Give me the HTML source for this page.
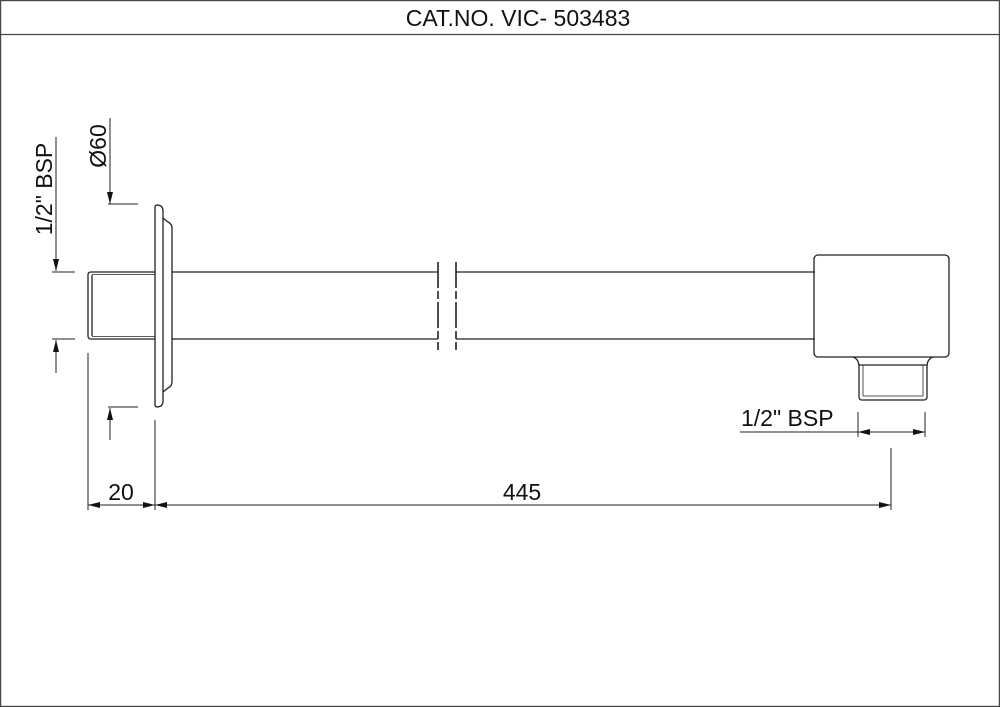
<!DOCTYPE html>
<html><head><style>
html,body{margin:0;padding:0;background:#fff;}
svg{display:block;}
text{font-family:"Liberation Sans",Arial,sans-serif;fill:#111;}
</style></head><body>
<svg width="1000" height="707" viewBox="0 0 1000 707" xmlns="http://www.w3.org/2000/svg">
<defs>
<marker id="a" viewBox="0 0 12 6" refX="12" refY="3" markerWidth="12" markerHeight="6" orient="auto-start-reverse" markerUnits="userSpaceOnUse">
<path d="M0,0 L12,3 L0,6 z" fill="#111"/>
</marker>
</defs>
<g fill="none" stroke="#444" stroke-width="1.2">
<rect x="0.6" y="0.6" width="998.8" height="705.8"/>
<line x1="0" y1="34.5" x2="1000" y2="34.5"/>
</g>
<text x="518" y="26" font-size="23" text-anchor="middle">CAT.NO. VIC- 503483</text>

<g fill="none" stroke="#222" stroke-width="1.3">
<path d="M155,272 H91 Q88,272 88,275 V336 Q88,339 91,339 H155"/>
<line x1="92" y1="275" x2="92" y2="336"/>
<line x1="92" y1="274.5" x2="155" y2="274.5" stroke-width="0.8"/>
<line x1="92" y1="336.5" x2="155" y2="336.5" stroke-width="0.8"/>
<path d="M155,207 Q155,205 158,205 L161,206 Q163,208 163,211 V401 Q163,404 161,406 L158,407 Q155,407 155,405 Z"/>
<path d="M163,218 L168,222 Q172,224 172,228 V382 Q172,386 168,388 L163,392"/>
<line x1="172" y1="272" x2="438" y2="272"/>
<line x1="172" y1="339" x2="438" y2="339"/>
<line x1="456" y1="272" x2="815" y2="272"/>
<line x1="456" y1="339" x2="815" y2="339"/>
<line x1="438" y1="262" x2="438" y2="350" stroke-width="1.6" stroke-dasharray="26,3,8,3"/>
<line x1="456" y1="262" x2="456" y2="350" stroke-width="1.6" stroke-dasharray="26,3,8,3"/>
<rect x="814" y="255" width="135" height="102" rx="4"/>
<path d="M853,357 Q859,359 859,367 V397 Q859,400 862,400 H924 Q927,400 927,397 V367 Q927,359 933,357"/>
<line x1="859" y1="365" x2="927" y2="365"/>
<line x1="863" y1="365" x2="863" y2="396" stroke-width="0.8"/>
<line x1="923" y1="365" x2="923" y2="396" stroke-width="0.8"/>
<line x1="863" y1="396" x2="923" y2="396" stroke-width="0.8"/>
</g>

<g fill="none" stroke="#222" stroke-width="1">
<line x1="110" y1="118" x2="110" y2="204" marker-end="url(#a)"/>
<line x1="108" y1="204" x2="138" y2="204"/>
<line x1="110" y1="440" x2="110" y2="408" marker-end="url(#a)"/>
<line x1="108" y1="407" x2="138" y2="407"/>
<line x1="56" y1="137" x2="56" y2="271" marker-end="url(#a)"/>
<line x1="52" y1="272" x2="75" y2="272"/>
<line x1="56" y1="373" x2="56" y2="340" marker-end="url(#a)"/>
<line x1="52" y1="339" x2="75" y2="339"/>
<line x1="88" y1="353" x2="88" y2="510"/>
<line x1="155" y1="420" x2="155" y2="510"/>
<line x1="891" y1="448" x2="891" y2="510"/>
<line x1="88" y1="505" x2="155" y2="505" marker-start="url(#a)" marker-end="url(#a)"/>
<line x1="155" y1="505" x2="891" y2="505" marker-start="url(#a)" marker-end="url(#a)"/>
<line x1="858" y1="412" x2="858" y2="437"/>
<line x1="925" y1="412" x2="925" y2="437"/>
<line x1="740" y1="432" x2="858" y2="432"/>
<line x1="858" y1="432" x2="925" y2="432" marker-start="url(#a)" marker-end="url(#a)"/>
</g>

<text x="121" y="500" font-size="23" text-anchor="middle">20</text>
<text x="522" y="500" font-size="23" text-anchor="middle">445</text>
<text x="741" y="426" font-size="23">1/2" BSP</text>
<text transform="translate(52,189) rotate(-90)" font-size="23" text-anchor="middle">1/2" BSP</text>
<text transform="translate(106,146) rotate(-90)" font-size="23" text-anchor="middle">Ø60</text>
</svg>
</body></html>
